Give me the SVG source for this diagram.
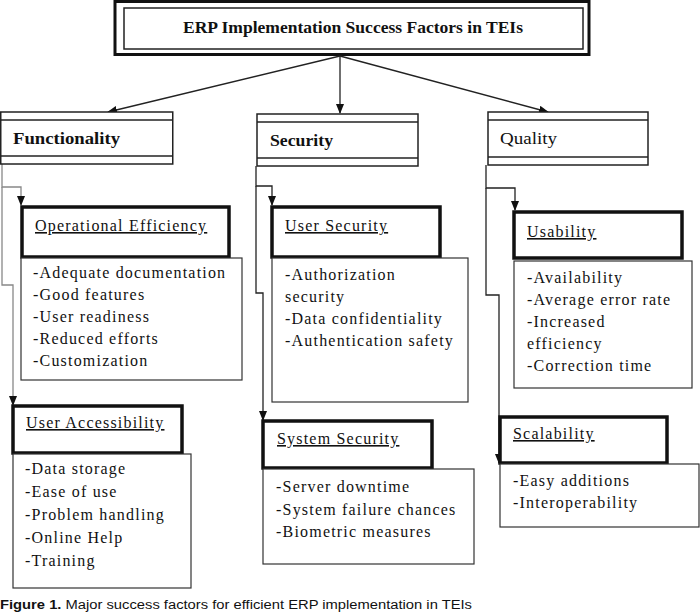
<svg xmlns="http://www.w3.org/2000/svg" width="700" height="612" viewBox="0 0 700 612">
<style>
.t{font-family:"Liberation Serif","Times New Roman",serif;font-size:16px;fill:#111}
.b{letter-spacing:1.2px}
.h{font-weight:bold}
.u{text-decoration:underline}
.hdr{fill:#fff;stroke:#222;stroke-width:1.5}
.band{stroke:#222;stroke-width:1.5}
.thick{fill:#fff;stroke:#111;stroke-width:3.5}
.det{fill:#fff;stroke:#333;stroke-width:1.2}
.con{fill:none;stroke:#222;stroke-width:1.3}
.gray{stroke:#888}
.cap{font-family:"Liberation Sans",Arial,sans-serif;font-size:12.5px;fill:#111}
</style>
<defs>
<marker id="ah" markerWidth="10" markerHeight="8" refX="9" refY="4" orient="auto" markerUnits="userSpaceOnUse">
<path d="M0,0 L10,4 L0,8 Z" fill="#111"/>
</marker>
</defs>
<rect width="700" height="612" fill="#fff"/>

<g id="title">
<rect x="115" y="1.5" width="474" height="53" fill="#fff" stroke="#111" stroke-width="3"/>
<rect x="124" y="8" width="459" height="41" fill="#fff" stroke="#222" stroke-width="1.5"/>
<text class="t h" x="183" y="33" textLength="340" lengthAdjust="spacingAndGlyphs">ERP Implementation Success Factors in TEIs</text>
</g>

<g id="connectors">
<line class="con" x1="340" y1="56" x2="108" y2="112" marker-end="url(#ah)"/>
<line class="con" x1="340" y1="56" x2="340" y2="113" marker-end="url(#ah)"/>
<line class="con" x1="340" y1="56" x2="548" y2="112" marker-end="url(#ah)"/>
<path class="con gray" d="M2,164 V187 H21 V205" marker-end="url(#ah)"/>
<path class="con gray" d="M2,187 V285 H13 V405" marker-end="url(#ah)"/>
<path class="con" d="M256,166 V186 H272 V205" marker-end="url(#ah)"/>
<path class="con" d="M256,186 V293 H263 V420" marker-end="url(#ah)"/>
<path class="con" d="M486,165 V188 H515 V210" marker-end="url(#ah)"/>
<path class="con" d="M486,188 V295 H499 V463" marker-end="url(#ah)"/>
</g>

<g id="functionality">
<rect class="hdr" x="0.75" y="112" width="172" height="52"/>
<line class="band" x1="0" y1="120" x2="173" y2="120"/>
<line class="band" x1="0" y1="156" x2="173" y2="156"/>
<text class="t h" x="13" y="144" textLength="107" lengthAdjust="spacingAndGlyphs">Functionality</text>
</g>

<g id="security">
<rect class="hdr" x="257" y="114" width="161" height="52"/>
<line class="band" x1="257" y1="122" x2="418" y2="122"/>
<line class="band" x1="257" y1="158" x2="418" y2="158"/>
<text class="t h" x="270" y="146" textLength="63" lengthAdjust="spacingAndGlyphs">Security</text>
</g>

<g id="quality">
<rect class="hdr" x="488" y="112" width="160" height="53"/>
<line class="band" x1="488" y1="120" x2="648" y2="120"/>
<line class="band" x1="488" y1="157" x2="648" y2="157"/>
<text class="t" x="500" y="144" textLength="57" lengthAdjust="spacingAndGlyphs">Quality</text>
</g>

<g id="operational-efficiency">
<rect class="thick" x="22" y="207" width="207" height="50"/>
<text class="t b u" x="35" y="231">Operational Efficiency</text>
</g>
<g id="operational-efficiency-details">
<rect class="det" x="21" y="258" width="221" height="122"/>
<text class="t b" x="33" y="278">-Adequate documentation</text>
<text class="t b" x="33" y="300">-Good features</text>
<text class="t b" x="33" y="322">-User readiness</text>
<text class="t b" x="33" y="344">-Reduced efforts</text>
<text class="t b" x="33" y="366">-Customization</text>
</g>

<g id="user-accessibility">
<rect class="thick" x="13" y="406" width="169" height="47"/>
<text class="t b u" x="26" y="428">User Accessibility</text>
</g>
<g id="user-accessibility-details">
<rect class="det" x="13" y="454" width="178" height="134"/>
<text class="t b" x="25" y="474">-Data storage</text>
<text class="t b" x="25" y="497">-Ease of use</text>
<text class="t b" x="25" y="520">-Problem handling</text>
<text class="t b" x="25" y="543">-Online Help</text>
<text class="t b" x="25" y="566">-Training</text>
</g>

<g id="user-security">
<rect class="thick" x="272" y="207" width="168" height="50"/>
<text class="t b u" x="285" y="231">User Security</text>
</g>
<g id="user-security-details">
<rect class="det" x="272" y="258" width="196" height="144"/>
<text class="t b" x="285" y="280">-Authorization</text>
<text class="t b" x="285" y="302">security</text>
<text class="t b" x="285" y="324">-Data confidentiality</text>
<text class="t b" x="285" y="346">-Authentication safety</text>
</g>

<g id="system-security">
<rect class="thick" x="263" y="421" width="169" height="47"/>
<text class="t b u" x="277" y="444">System Security</text>
</g>
<g id="system-security-details">
<rect class="det" x="263" y="469" width="211" height="95"/>
<text class="t b" x="276" y="492">-Server downtime</text>
<text class="t b" x="276" y="515">-System failure chances</text>
<text class="t b" x="276" y="537">-Biometric measures</text>
</g>

<g id="usability">
<rect class="thick" x="514" y="212" width="168" height="46"/>
<text class="t b u" x="527" y="237">Usability</text>
</g>
<g id="usability-details">
<rect class="det" x="514" y="261" width="178" height="127"/>
<text class="t b" x="527" y="283">-Availability</text>
<text class="t b" x="527" y="305">-Average error rate</text>
<text class="t b" x="527" y="327">-Increased</text>
<text class="t b" x="527" y="349">efficiency</text>
<text class="t b" x="527" y="371">-Correction time</text>
</g>

<g id="scalability">
<rect class="thick" x="500" y="417" width="167" height="46"/>
<text class="t b u" x="513" y="439">Scalability</text>
</g>
<g id="scalability-details">
<rect class="det" x="500" y="464" width="199" height="63"/>
<text class="t b" x="513" y="486">-Easy additions</text>
<text class="t b" x="513" y="508">-Interoperability</text>
</g>

<text class="cap" x="0" y="609" textLength="472" lengthAdjust="spacingAndGlyphs"><tspan font-weight="bold">Figure 1.</tspan> Major success factors for efficient ERP implementation in TEIs</text>
</svg>
